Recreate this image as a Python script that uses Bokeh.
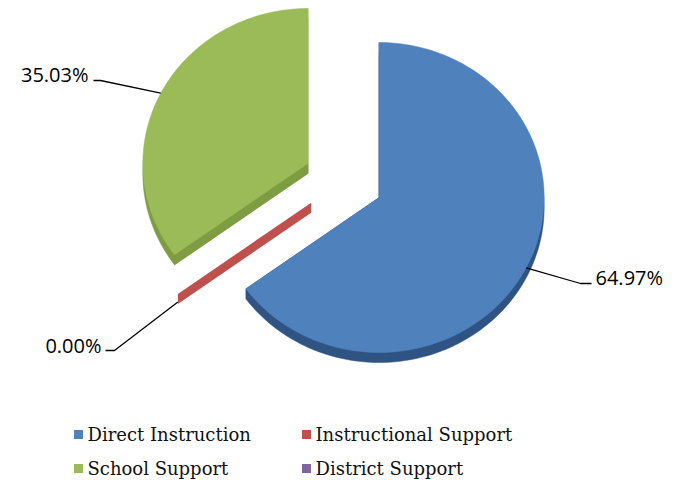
import numpy as np
from bokeh.plotting import figure
from bokeh.models import Range1d
from bokeh.core.properties import value
from bokeh.embed import file_html
from bokeh.resources import INLINE

# ---- data ----
categories = ["Direct Instruction", "Instructional Support", "School Support", "District Support"]
values = [64.97, 0.00, 35.03, 0.00]
labels = ["64.97%", "0.00%", "35.03%", None]

top_colors = ["#4F81BD", "#C0504D", "#9BBB59", "#8064A2"]
side_colors = ["#2F5383", "#C0504D", "#7E9C42", "#604A7B"]

# ---- layout (picture pixel coordinates) ----
W, H = 679, 480
CX, CY = 343, 180          # common pie centre
RX, RY = 165, 155          # ellipse radii of tilted pie
DEPTH = 10
EXPLODE = 40

p = figure(width=W, height=H, output_backend="svg", toolbar_location=None,
           x_range=Range1d(0, W), y_range=Range1d(H, 0),
           min_border=0, outline_line_color=None)
p.axis.visible = False
p.grid.visible = False
p.background_fill_color = "white"

total = sum(values)
angles = np.cumsum([0] + [v / total * 2 * np.pi for v in values])

label_pos = {}
for i, v in enumerate(values):
    a0, a1 = angles[i], angles[i + 1]
    mid = (a0 + a1) / 2
    cx = CX + EXPLODE * np.sin(mid)
    cy = CY - EXPLODE * np.cos(mid) * RY / RX
    th = np.linspace(a0, a1, max(2, int(200 * (a1 - a0) / (2 * np.pi)) + 2))
    ax = cx + RX * np.sin(th)
    ay = cy - RY * np.cos(th)
    tx = np.concatenate([[cx], ax])
    ty = np.concatenate([[cy], ay])
    if v == 0:
        p.patch([cx, ax[0], ax[0], cx], [cy, ay[0], ay[0] + DEPTH, cy + DEPTH],
                fill_color=side_colors[i], line_color=None)
    else:
        xs = [list(tx), [cx, ax[0], ax[0], cx], [cx, ax[-1], ax[-1], cx]]
        ys = [list(ty + DEPTH), [cy, ay[0], ay[0] + DEPTH, cy + DEPTH],
              [cy, ay[-1], ay[-1] + DEPTH, cy + DEPTH]]
        p.patches(xs, ys, fill_color=side_colors[i], line_color=side_colors[i], line_width=0.5)
        p.patch(tx, ty, fill_color=top_colors[i], line_color=top_colors[i], line_width=0.5)
    sx = cx + RX * np.sin(mid)
    sy = cy - RY * np.cos(mid)
    if v == 0:
        sy += DEPTH * 0.8
    label_pos[i] = (sx, sy)

# leader lines and labels: (knee x, knee y, end x, text x, text y, align)
leaders = {
    0: (580, 283, 591, 595, 277, "left"),
    1: (114, 350, 105, 101, 345, "right"),
    2: (100, 80, 93, 88, 74, "right"),
}
for i, lab in enumerate(labels):
    if lab is None:
        continue
    kx, ky, ex, tx_, ty_, al = leaders[i]
    sx, sy = label_pos[i]
    p.line([sx, kx, ex], [sy, ky, ky], line_color="black", line_width=1.3)
    p.text(x=[tx_], y=[ty_], text=[lab], text_font=value("Open Sans"),
           text_font_size="20px", text_color="black", text_align=al,
           text_baseline="middle")

# legend
order = [0, 2, 1, 3]
for k, i in enumerate(order):
    mx = [78, 306][k // 2]
    my = [434, 468][k % 2]
    p.scatter([mx], [my], marker="square", size=9, fill_color=top_colors[i],
              line_color=None)
    p.text(x=[mx + 9], y=[my], text=[categories[i]], text_font=value("DejaVu Serif"),
           text_font_size="18px", text_color="#111111", text_align="left",
           text_baseline="middle")

open("out.html", "w").write(file_html(p, INLINE))
